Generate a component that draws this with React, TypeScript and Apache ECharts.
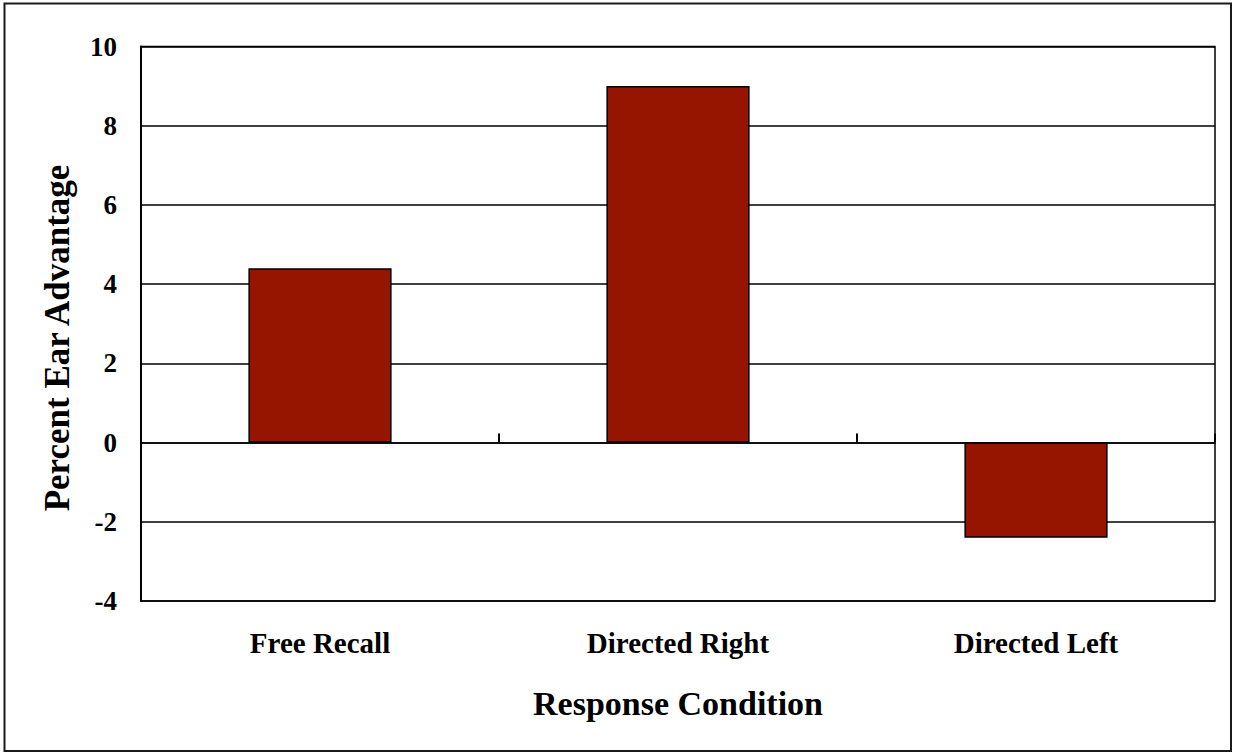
import React, { useEffect, useRef } from "react";
import * as echarts from "echarts";

const categories = ["Free Recall", "Directed Right", "Directed Left"];
const earAdvantage = [4.4, 9.0, -2.4];
const yMin = -4;
const yMax = 10;
const yStep = 2;

const FONT = "'Liberation Serif', 'Times New Roman', serif";

export default function App() {
  const ref = useRef<HTMLDivElement>(null);

  useEffect(() => {
    if (!ref.current) return;
    const chart = echarts.init(ref.current, undefined, { renderer: "svg" });
    chart.setOption({
      animation: false,
      backgroundColor: "#ffffff",
      grid: {
        left: 141,
        top: 46.5,
        right: 18,
        bottom: 151,
        show: true,
        borderColor: "#000",
        borderWidth: 1.5,
        containLabel: false,
      },
      graphic: [
        {
          type: "rect",
          shape: { x: 4.5, y: 3.5, width: 1226.5, height: 747.5 },
          style: { fill: "none", stroke: "#1a1a1a", lineWidth: 2 },
          silent: true,
        },
        {
          type: "text",
          x: 57,
          y: 338,
          rotation: Math.PI / 2,
          style: {
            text: "Percent Ear Advantage",
            font: `bold 35px ${FONT}`,
            fill: "#000",
            textAlign: "center",
            textVerticalAlign: "middle",
          },
        },
      ],
      xAxis: [
        {
          type: "category",
          data: categories,
          position: "bottom",
          axisLine: { show: false, onZero: false },
          axisTick: { show: false },
          axisLabel: {
            margin: 27,
            fontFamily: FONT,
            fontWeight: "bold",
            fontSize: 29,
            color: "#000",
          },
          name: "Response Condition",
          nameLocation: "middle",
          nameGap: 85,
          nameTextStyle: {
            fontFamily: FONT,
            fontWeight: "bold",
            fontSize: 34,
            color: "#000",
          },
        },
        {
          type: "category",
          data: categories,
          position: "bottom",
          axisLine: {
            show: true,
            onZero: true,
            lineStyle: { color: "#000", width: 1.5 },
          },
          axisTick: {
            show: true,
            inside: true,
            length: 9,
            lineStyle: { color: "#000", width: 2 },
          },
          axisLabel: { show: false },
        },
      ],
      yAxis: {
        type: "value",
        min: yMin,
        max: yMax,
        interval: yStep,
        axisLine: { show: true, lineStyle: { color: "#000", width: 2 } },
        axisTick: { show: false },
        axisLabel: {
          margin: 24,
          fontFamily: FONT,
          fontWeight: "bold",
          fontSize: 27,
          color: "#000",
        },
        splitLine: { show: true, lineStyle: { color: "#000", width: 1.5 } },
      },
      series: [
        {
          type: "bar",
          xAxisIndex: 0,
          data: earAdvantage,
          barWidth: "40%",
          itemStyle: {
            color: "#951500",
            borderColor: "#000",
            borderWidth: 1.5,
          },
        },
      ],
    });
    return () => chart.dispose();
  }, []);

  return (
    <div
      ref={ref}
      style={{
        position: "absolute",
        left: 0,
        top: 0,
        width: 1233,
        height: 752,
      }}
    />
  );
}
